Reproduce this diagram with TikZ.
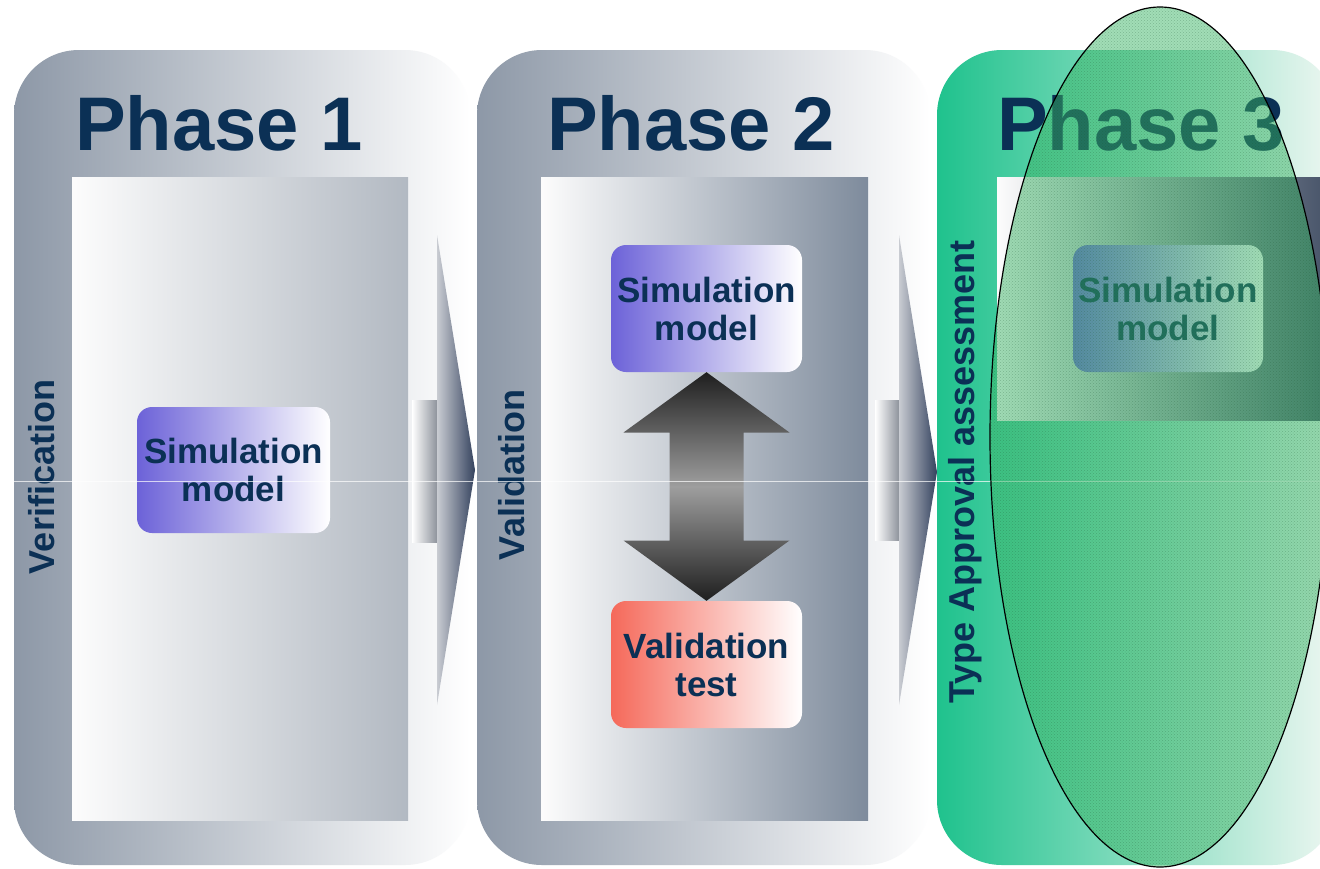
\documentclass[tikz,border=0pt]{standalone}
\usepackage{fontspec}
\setmainfont{Liberation Sans}
\usetikzlibrary{shapes.geometric,patterns,calc}

\definecolor{navy}{HTML}{0B3055}
\definecolor{steelL}{HTML}{8D98A7}
\definecolor{innerR1}{HTML}{B2B9C2}
\definecolor{innerR2}{HTML}{7E8B9C}
\definecolor{teal}{HTML}{1FC28D}
\definecolor{tealfade}{HTML}{EEF7F2}
\definecolor{slate}{HTML}{4B576C}
\definecolor{violet}{HTML}{6C62D8}
\definecolor{salmon}{HTML}{F5695A}
\definecolor{chevL}{HTML}{C9CCD2}
\definecolor{chevD}{HTML}{34425E}
\definecolor{chevBody}{HTML}{8E939C}
\definecolor{leaf}{HTML}{3CB867}

\begin{document}
\begin{tikzpicture}[x=1pt,y=-1pt,
  phasebox/.style={rounded corners=65pt, inner sep=0pt, minimum height=815pt,
    left color=#1, middle color=#1!33!white, right color=white},
  panelbox/.style={inner sep=0pt, left color=white!98!gray, right color=#1},
  cardbox/.style={rounded corners=15pt, inner sep=0pt, minimum width=193pt,
    minimum height=126pt, align=center, left color=#1, right color=white,
    font=\fontsize{35}{38}\selectfont\bfseries, text=navy},
  phasetitle/.style={anchor=base west, inner sep=0pt,
    font=\fontsize{76}{80}\selectfont\bfseries, text=navy},
  sidelabel/.style={rotate=90, inner sep=0pt,
    font=\fontsize{36}{40}\selectfont\bfseries, text=navy},
  chevhead/.style={left color=chevL, right color=chevD},
  chevtail/.style={left color=white, right color=chevBody},
  twoway/.style={top color=black!88, bottom color=black!88, middle color=black!38}
]
\useasboundingbox (0,0) rectangle (1320,868);
\clip (0,0) rectangle (1320,868);
\fill[white] (0,0) rectangle (1320,868);

% phase frames
\node[phasebox=steelL, minimum width=456pt] (p1) at (242,457.5) {};
\node[phasebox=steelL, minimum width=453pt] (p2) at (703.5,457.5) {};
\node[phasebox=teal, middle color=teal!55!white, right color=tealfade, minimum width=400pt] (p3) at (1137,457.5) {};

% inner panels
\node[panelbox=innerR1, minimum width=336pt, minimum height=643pt] (i1) at (240,498.5) {};
\node[panelbox=innerR2, minimum width=327pt, minimum height=643pt] (i2) at (704.5,498.5) {};
\node[panelbox=slate, minimum width=323pt, minimum height=243pt] (i3) at (1158.5,298.5) {};

% phase titles
\node[phasetitle] (t1) at (75,150) {Phase 1};
\node[phasetitle] (t2) at (547,150) {Phase 2};
\node[phasetitle] (t3) at (997,150) {Phase 3};

% side labels
\node[sidelabel] (l1) at (42,477) {Verification};
\node[sidelabel] (l2) at (512,475) {Validation};
\node[sidelabel] (l3) at (965,472) {Type Approval assessment};

% model cards
\node[cardbox=violet] (sim1) at (233.5,470) {Simulation\\model};
\node[cardbox=violet, minimum width=191pt, minimum height=127pt] (sim2) at (706.5,308.5) {Simulation\\model};
\node[cardbox=salmon, minimum width=191pt, minimum height=127pt] (val2) at (706.5,664.5) {Validation\\test};
\node[cardbox=violet, minimum width=190pt, minimum height=127pt] (sim3) at (1168,308.5) {Simulation\\model};

% two-way arrow between model and test
\coordinate (mid) at ($(sim2.south)!.5!(val2.north)$);
\shade[twoway] (sim2.south) -- ($(mid)+(83,-54)$) -- ($(mid)+(37,-54)$)
  -- ($(mid)+(37,54)$) -- ($(mid)+(83,54)$) -- (val2.north)
  -- ($(mid)+(-83,54)$) -- ($(mid)+(-37,54)$) -- ($(mid)+(-37,-54)$)
  -- ($(mid)+(-83,-54)$) -- cycle;

% chevrons between phases
\coordinate (a1top) at (437,235);
\coordinate (a1tip) at (475,470);
\coordinate (a1bot) at (437,705);
\shade[chevtail] (412,400) rectangle (a1top |- 0,542);
\shade[chevhead] (a1top) -- (a1tip) -- (a1bot) -- cycle;

\coordinate (a2top) at (899,235);
\coordinate (a2tip) at (937,472);
\coordinate (a2bot) at (899,705);
\shade[chevtail] (875,400) rectangle (a2top |- 0,540);
\shade[chevhead] (a2top) -- (a2tip) -- (a2bot) -- cycle;

% faint horizontal rule
\draw[white, opacity=.7, line width=1pt] (0,481) -- (1320,481);

% highlighted zone
\node[ellipse, minimum width=340pt, minimum height=860pt, fill=leaf,
  fill opacity=.48, draw=black, line width=1.2pt] (zone) at (1160,437) {};
\path[pattern=crosshatch dots, pattern color=leaf!45!black, fill opacity=.28]
  (zone.center) ellipse [x radius=169, y radius=429];
\end{tikzpicture}
\end{document}
